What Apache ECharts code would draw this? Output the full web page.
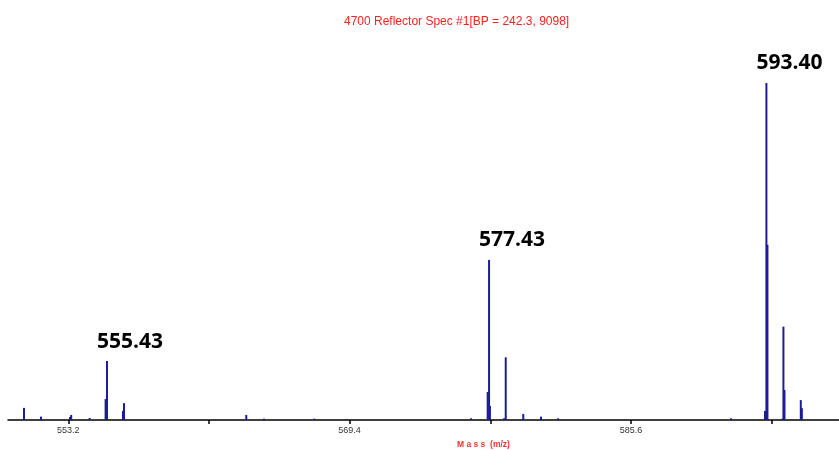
<!DOCTYPE html>
<html>
<head>
<meta charset="utf-8">
<script src="https://cdn.jsdelivr.net/npm/echarts@6/dist/echarts.min.js"></script>
<style>
  html, body { margin: 0; padding: 0; background: #fff; }
  #chart { width: 839px; height: 450px; }
</style>
</head>
<body>
<div id="chart"></div>
<script>
// stick spectrum: m/z and relative intensity (% of base peak)
const mz = [
  550.65, 551.63, 553.30, 553.37, 554.43, 555.35, 555.43, 556.35, 556.41,
  563.45, 564.47, 567.37, 569.23, 576.39, 577.35, 577.43, 577.48, 578.29,
  578.39, 579.40, 580.42, 581.40, 591.36, 593.32, 593.40, 593.46, 594.32,
  594.38, 594.44, 595.38, 595.44
];
const intensity = [
  3.6, 1.0, 0.9, 1.5, 0.6, 6.2, 17.5, 2.7, 5.0,
  1.5, 0.4, 0.4, 0.3, 0.5, 8.3, 47.5, 4.2, 0.5,
  18.6, 1.8, 1.0, 0.5, 0.5, 2.7, 100, 52, 0.4,
  27.7, 8.9, 5.9, 3.5
];
const labelledPeaks = [555.43, 577.43, 593.40];
const tickValues = [553.2, 561.3, 569.4, 577.5, 585.6, 593.7];
const labelValues = [553.2, 569.4, 585.6];

const sticks = mz.map((m, i) => [m, intensity[i]]);
const peakPoints = labelledPeaks.map((m) => [m, intensity[mz.indexOf(m)]]);

const chart = echarts.init(document.getElementById("chart"), null, { renderer: "canvas" });

const option = {
  animation: false,
  title: {
    text: "4700 Reflector Spec #1[BP = 242.3, 9098]",
    left: 339,
    top: 11,
    textStyle: {
      color: "#ff2020",
      fontSize: 12,
      fontWeight: "normal",
      fontFamily: "Liberation Sans Narrow, Liberation Sans",
    },
  },
  grid: { left: 8, right: 0, top: 83, bottom: 30 },
  xAxis: {
    type: "value",
    min: 549.73,
    max: 597.58,
    splitLine: { show: false },
    axisLine: { lineStyle: { color: "#000", width: 1.5 } },
    axisTick: {
      customValues: tickValues,
      length: 4,
      lineStyle: { color: "#000", width: 1.5 },
    },
    axisLabel: {
      customValues: labelValues,
      formatter: (v) => v.toFixed(1),
      color: "#333",
      fontSize: 9,
      margin: 6,
      fontFamily: "Liberation Sans",
    },
  },
  yAxis: {
    type: "value",
    min: 0,
    max: 100,
    show: false,
  },
  graphic: [
    {
      type: "text",
      left: 457,
      top: 440,
      style: {
        text: "M a s s  (m/z)",
        fill: "#ff3030",
        font: "bold 8.5px Liberation Sans",
      },
    },
  ],
  series: [
    {
      type: "custom",
      data: sticks,
      renderItem(params, api) {
        const base = api.coord([api.value(0), 0]);
        const top = api.coord([api.value(0), api.value(1)]);
        return {
          type: "line",
          shape: { x1: base[0], y1: base[1], x2: top[0], y2: top[1] },
          style: { stroke: "#1c1c94", lineWidth: 2 },
        };
      },
    },
    {
      type: "scatter",
      data: peakPoints,
      symbolSize: 0,
      itemStyle: { opacity: 1 },
      label: {
        show: true,
        position: "top",
        offset: [23, -4],
        formatter: (p) => p.value[0].toFixed(2),
        color: "#000",
        textBorderWidth: 0,
        fontSize: 21,
        fontWeight: "bold",
        fontFamily: "Open Sans",
      },
    },
  ],
};

chart.setOption(option);
</script>
</body>
</html>
